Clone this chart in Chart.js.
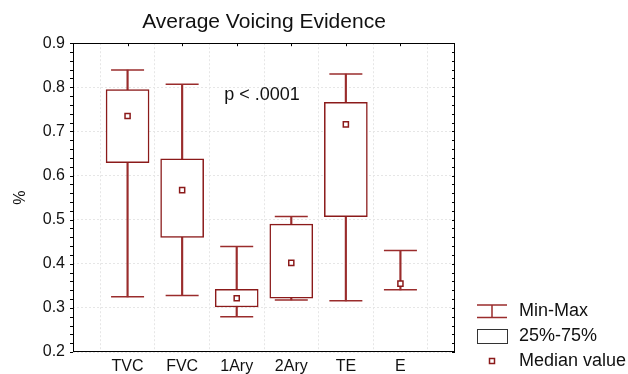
<!DOCTYPE html>
<html>
<head>
<meta charset="utf-8">
<script src="https://cdn.jsdelivr.net/npm/chart.js@4.4.1/dist/chart.umd.min.js"></script>
<style>
  html, body { margin: 0; padding: 0; background: #fff; }
</style>
</head>
<body>
<canvas id="chart" width="628" height="374"></canvas>
<script>
// box plot values
const categories = ['TVC', 'FVC', '1Ary', '2Ary', 'TE', 'E'];
const minValues = [0.325, 0.328, 0.280, 0.318, 0.316, 0.341];
const q1Values = [0.629, 0.460, 0.302, 0.322, 0.507, null];
const medianValues = [0.735, 0.567, 0.322, 0.402, 0.716, 0.355];
const q3Values = [0.795, 0.638, 0.342, 0.490, 0.766, null];
const maxValues = [0.839, 0.807, 0.439, 0.507, 0.830, 0.430];

const yMin = 0.2;
const yMax = 0.9;
const yStep = 0.1;
const pText = 'p < .0001';
const legendLabels = ['Min-Max', '25%-75%', 'Median value'];

const boxColor = '#8b1a1a';
const whiskerColor = '#9a2c2c';
const fontFamily = '"Liberation Sans", Arial, Helvetica, sans-serif';

// empty slots at both ends so the categories sit on grid lines 1..6
const xLabels = [''].concat(categories, ['']);

const pts = vals => categories.map((c, i) => ({ x: c, y: vals[i] }));

const extras = {
  id: 'extras',
  afterDraw(chart) {
    const ctx = chart.ctx;
    const a = chart.chartArea;
    const y = chart.scales.y;
    const x = chart.scales.x;
    ctx.save();

    // frame
    ctx.strokeStyle = '#000';
    ctx.lineWidth = 1;
    ctx.strokeRect(Math.round(a.left) + 0.5, Math.round(a.top) + 0.5,
      Math.round(a.right - a.left) - 1, Math.round(a.bottom - a.top) - 1);

    // minor ticks on both vertical axes
    ctx.beginPath();
    for (let v = yMin; v <= yMax + 1e-9; v += 0.02) {
      const py = Math.round(y.getPixelForValue(v)) + 0.5;
      ctx.moveTo(a.left - 3, py); ctx.lineTo(a.left, py);
      ctx.moveTo(a.right - 3, py); ctx.lineTo(a.right, py);
    }
    // category ticks on top axis
    for (let i = 1; i < xLabels.length - 1; i++) {
      const px = Math.round(x.getPixelForValue(i)) + 0.5;
      ctx.moveTo(px, a.top); ctx.lineTo(px, a.top + 3);
    }
    ctx.stroke();

    // p value note
    ctx.fillStyle = '#111';
    ctx.font = '18px ' + fontFamily;
    ctx.textAlign = 'center';
    ctx.textBaseline = 'middle';
    const px = (x.getPixelForValue(3) + x.getPixelForValue(4)) / 2;
    ctx.fillText(pText, px - 2, y.getPixelForValue(0.783));

    // legend
    const lx = 477, lw = 30, tx = 519;
    ctx.textAlign = 'left';
    ctx.strokeStyle = whiskerColor;
    ctx.lineWidth = 1.5;
    ctx.beginPath();
    ctx.moveTo(lx, 305); ctx.lineTo(lx + lw, 305);
    ctx.moveTo(lx, 317.5); ctx.lineTo(lx + lw, 317.5);
    ctx.moveTo(lx + lw / 2, 305); ctx.lineTo(lx + lw / 2, 317.5);
    ctx.stroke();
    ctx.fillText(legendLabels[0], tx, 311);

    ctx.strokeStyle = '#333';
    ctx.lineWidth = 1;
    ctx.strokeRect(lx + 0.5, 329.5, lw, 14);
    ctx.fillText(legendLabels[1], tx, 336);

    ctx.strokeStyle = boxColor;
    ctx.lineWidth = 1.5;
    ctx.strokeRect(lx + lw / 2 - 2.5, 358.5, 5, 5);
    ctx.fillText(legendLabels[2], tx, 361);

    ctx.restore();
  }
};

new Chart(document.getElementById('chart'), {
  type: 'bar',
  data: {
    labels: xLabels,
    datasets: [
      {
        // median markers
        type: 'line',
        label: 'Median',
        data: pts(medianValues),
        showLine: false,
        pointStyle: 'rect',
        pointRadius: 3.6,
        pointBorderWidth: 1.5,
        pointBackgroundColor: '#fff',
        pointBorderColor: boxColor,
        order: 0
      },
      {
        // whisker caps
        type: 'line',
        label: 'Max',
        data: pts(maxValues),
        showLine: false,
        pointStyle: 'line',
        pointRadius: 16.5,
        pointBorderWidth: 1.5,
        pointBorderColor: whiskerColor,
        order: 1
      },
      {
        type: 'line',
        label: 'Min',
        data: pts(minValues),
        showLine: false,
        pointStyle: 'line',
        pointRadius: 16.5,
        pointBorderWidth: 1.5,
        pointBorderColor: whiskerColor,
        order: 1
      },
      {
        // 25%-75% boxes
        label: 'Box',
        data: categories.map((c, i) => ({ x: c, y: q1Values[i] === null ? null : [q1Values[i], q3Values[i]] })),
        backgroundColor: '#fff',
        borderColor: boxColor,
        borderWidth: 1.5,
        borderSkipped: false,
        barThickness: 43,
        grouped: false,
        order: 2
      },
      {
        // whisker stems
        label: 'Range',
        data: categories.map((c, i) => ({ x: c, y: [minValues[i], maxValues[i]] })),
        backgroundColor: whiskerColor,
        borderWidth: 0,
        barThickness: 1.5,
        grouped: false,
        order: 3
      }
    ]
  },
  options: {
    responsive: false,
    animation: false,
    layout: { padding: { right: 173, top: 0, bottom: 0, left: 0 } },
    plugins: {
      legend: { display: false },
      tooltip: { enabled: false },
      title: {
        display: true,
        text: 'Average Voicing Evidence',
        fullSize: false,
        color: '#111',
        font: { family: fontFamily, size: 21, weight: 'normal' },
        padding: { top: 10, bottom: 8 }
      }
    },
    scales: {
      x: {
        offset: false,
        grid: { color: '#e6e6e6', drawTicks: false },
        border: { display: false, dash: [2, 2] },
        ticks: {
          color: '#111',
          font: { family: fontFamily, size: 16 },
          padding: 5,
          autoSkip: false,
          maxRotation: 0
        },
        afterFit(scale) { scale.height = 22; }
      },
      y: {
        min: yMin,
        max: yMax,
        grid: { color: '#e6e6e6', drawTicks: false },
        border: { display: false, dash: [2, 2] },
        ticks: {
          stepSize: yStep,
          color: '#111',
          font: { family: fontFamily, size: 16 },
          padding: 8,
          callback: v => v.toFixed(1)
        },
        title: {
          display: true,
          text: '%',
          color: '#111',
          font: { family: fontFamily, size: 16 },
          padding: { top: 11, bottom: 0 }
        },
        afterFit(scale) { scale.width = 73; }
      }
    }
  },
  plugins: [extras]
});
</script>
</body>
</html>
